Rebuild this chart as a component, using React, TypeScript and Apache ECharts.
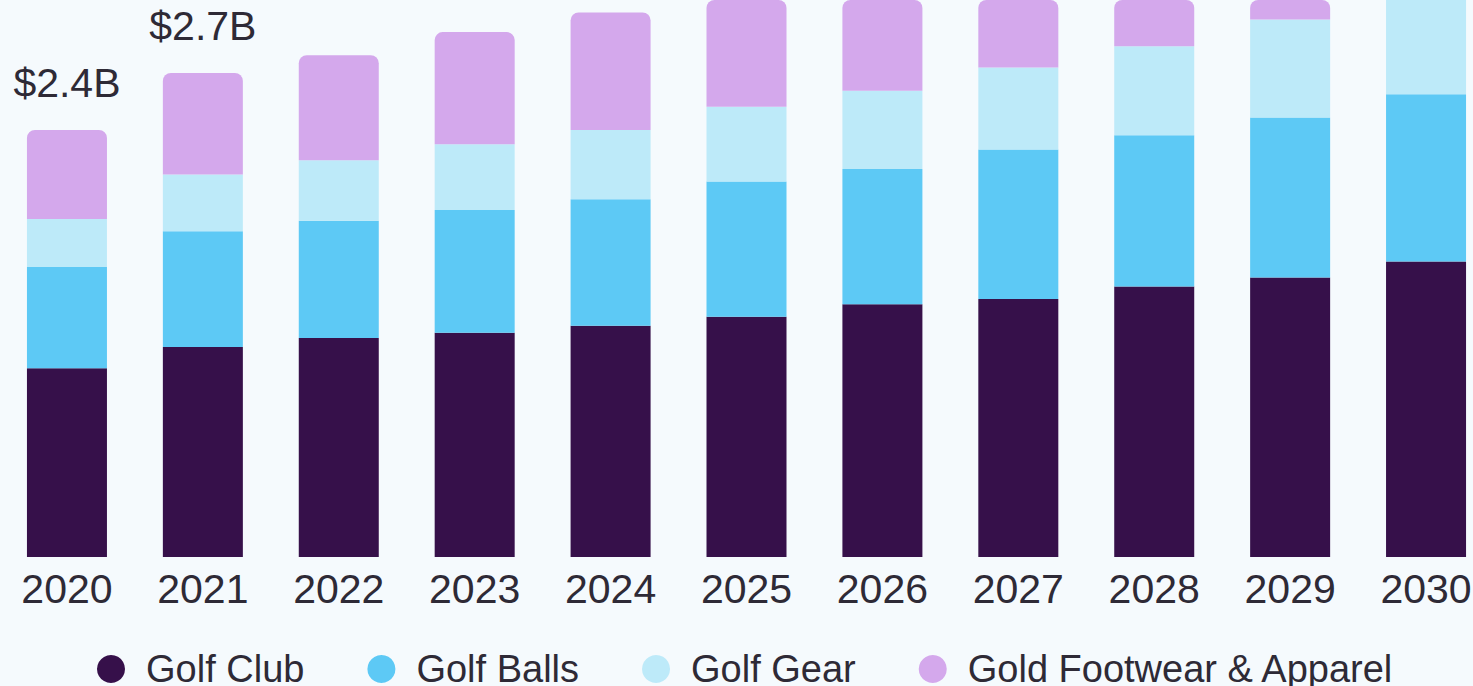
import React, { useEffect, useRef } from "react";
import * as echarts from "echarts";

const categories = ["2020", "2021", "2022", "2023", "2024", "2025", "2026", "2027", "2028", "2029", "2030"];
const golfClub = [1.06, 1.18, 1.23, 1.26, 1.3, 1.35, 1.42, 1.45, 1.52, 1.57, 1.66];
const golfBalls = [0.57, 0.65, 0.66, 0.69, 0.71, 0.76, 0.76, 0.84, 0.85, 0.9, 0.94];
const golfGear = [0.27, 0.32, 0.34, 0.37, 0.39, 0.42, 0.44, 0.46, 0.5, 0.55, 0.58];
const footwear = [0.5, 0.57, 0.59, 0.63, 0.66, 0.69, 0.72, 0.75, 0.79, 0.83, 0.87];
const totalLabels = ["$2.4B", "$2.7B", "", "", "", "", "", "", "", "", ""];
const seriesNames = ["Golf Club", "Golf Balls", "Golf Gear", "Gold Footwear & Apparel"];
const colors = ["#36104A", "#5DC9F5", "#BDEAF9", "#D4A8EC"];

const FONT = "'Liberation Sans', Arial, sans-serif";
const TEXT = "#2E2A36";

export default function App() {
  const ref = useRef<HTMLDivElement>(null);
  useEffect(() => {
    if (!ref.current) return;
    const chart = echarts.init(ref.current, undefined, { renderer: "svg" });
    const values = [golfClub, golfBalls, golfGear, footwear];
    chart.setOption({
      animation: false,
      backgroundColor: "#F5FAFD",
      textStyle: { fontFamily: FONT },
      grid: {
        left: -1,
        width: 1495,
        top: 0,
        height: 557,
        containLabel: false,
        outerBoundsMode: "none",
      },
      legend: {
        data: seriesNames,
        left: 92,
        top: 645,
        icon: "circle",
        itemWidth: 28,
        itemHeight: 28,
        itemGap: 63,
        textStyle: { fontSize: 38, color: TEXT, fontFamily: FONT, padding: [0, 0, 0, 16] },
      },
      xAxis: {
        type: "category",
        data: categories,
        axisLine: { show: false },
        axisTick: { show: false },
        axisLabel: { fontSize: 41, color: TEXT, margin: 11, fontFamily: FONT, hideOverlap: false },
      },
      yAxis: {
        type: "value",
        min: 0,
        max: 3.13,
        show: false,
        splitLine: { show: false },
      },
      series: values.map((v, i) => ({
        name: seriesNames[i],
        type: "bar",
        stack: "total",
        barWidth: 80,
        data: v,
        itemStyle: {
          color: colors[i],
          borderRadius: i === 3 ? [8, 8, 0, 0] : 0,
        },
        label:
          i === 3
            ? {
                show: true,
                position: "top",
                distance: 26,
                fontSize: 41,
                color: TEXT,
                fontFamily: FONT,
                formatter: (p: any) => totalLabels[p.dataIndex],
              }
            : { show: false },
      })),
    });
    return () => chart.dispose();
  }, []);
  return (
    <div
      ref={ref}
      style={{ position: "absolute", left: 0, top: 0, width: 1473, height: 686 }}
    />
  );
}
